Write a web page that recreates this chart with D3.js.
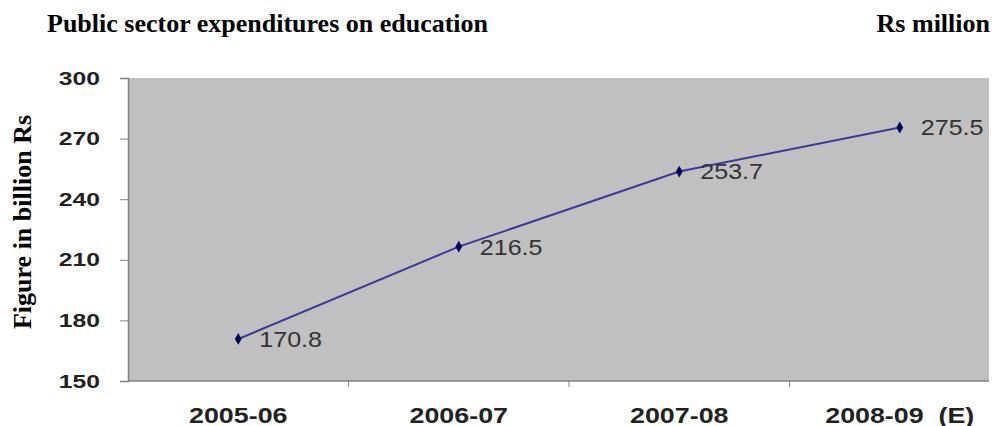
<!DOCTYPE html>
<html>
<head>
<meta charset="utf-8">
<script src="https://cdn.jsdelivr.net/npm/d3@7"></script>
<style>
  body { margin: 0; background: #fff; }
  svg { display: block; }
</style>
</head>
<body>
<svg id="chart" width="996" height="426"></svg>
<script>
const years = ["2005-06", "2006-07", "2007-08", "2008-09 (E)"];
const spending = [170.8, 216.5, 253.7, 275.5];
const yTicks = [150, 180, 210, 240, 270, 300];

const plot = {left: 128, top: 78, right: 989, bottom: 381};
const sansFont = "Liberation Sans, Arial, sans-serif";
const serifFont = "Liberation Serif, Times New Roman, serif";

const svg = d3.select("#chart");

const xScale = d3.scaleBand()
    .domain(years)
    .range([plot.left, plot.left + 4 * 220.5]);

const yScale = d3.scaleLinear()
    .domain([150, 300])
    .range([plot.bottom, plot.top]);

const cx = (d, i) => xScale(years[i]) + xScale.bandwidth() / 2;

// plot area
svg.append("rect")
    .attr("x", plot.left)
    .attr("y", plot.top)
    .attr("width", plot.right - plot.left)
    .attr("height", plot.bottom - plot.top)
    .attr("fill", "#c0c0c0");

// y axis
const yAxis = svg.append("g")
    .attr("transform", `translate(${plot.left},0)`)
    .call(d3.axisLeft(yScale).tickValues(yTicks).tickSize(8).tickPadding(20));
yAxis.select(".domain").attr("stroke", "#808080").attr("stroke-width", 1.5);
yAxis.selectAll(".tick line").attr("stroke", "#808080");
yAxis.selectAll(".tick text")
    .attr("x", null)
    .attr("transform", "translate(-28,0) scale(1.3,1)")
    .attr("font-family", sansFont)
    .attr("font-weight", "bold")
    .attr("font-size", 19)
    .attr("fill", "#222");

// x axis
const xAxis = svg.append("g")
    .attr("transform", `translate(0,${plot.bottom})`)
    .call(d3.axisBottom(xScale).tickSize(0).tickSizeOuter(0));
xAxis.select(".domain").attr("stroke", "#808080").attr("stroke-width", 1.5)
    .attr("d", `M${plot.left},0H${plot.right}`);
xAxis.selectAll(".tick text")
    .attr("y", null)
    .attr("dy", null)
    .attr("transform", "translate(0,42) scale(1.22,1)")
    .attr("font-family", sansFont)
    .attr("font-weight", "bold")
    .attr("font-size", 22)
    .attr("fill", "#222")
    .attr("xml:space", "preserve")
    .text(d => d.replace(" ", "  "));

// category separator ticks
svg.append("g")
    .selectAll("line")
    .data(years.slice(1))
    .join("line")
    .attr("x1", d => xScale(d))
    .attr("x2", d => xScale(d))
    .attr("y1", plot.bottom)
    .attr("y2", plot.bottom + 6)
    .attr("stroke", "#808080");

// line
svg.append("path")
    .datum(spending)
    .attr("fill", "none")
    .attr("stroke", "#3a3a9c")
    .attr("stroke-width", 2)
    .attr("d", d3.line()
        .x(cx)
        .y(d => yScale(d)));

// markers
svg.append("g")
    .selectAll("path")
    .data(spending)
    .join("path")
    .attr("transform", (d, i) => `translate(${cx(d, i)},${yScale(d)})`)
    .attr("d", d3.symbol(d3.symbolDiamond, 40))
    .attr("fill", "#000060");

// value labels
svg.append("g")
    .selectAll("text")
    .data(spending)
    .join("text")
    .attr("transform", (d, i) => `translate(${cx(d, i) + 21},${yScale(d)}) scale(1.14,1)`)
    .attr("dy", "0.36em")
    .attr("font-family", sansFont)
    .attr("font-size", 22)
    .attr("fill", "#333")
    .text(d => d.toFixed(1));

// titles
svg.append("text")
    .attr("x", 47)
    .attr("y", 32)
    .attr("font-family", serifFont)
    .attr("font-weight", "bold")
    .attr("font-size", 26)
    .text("Public sector expenditures on education");

svg.append("text")
    .attr("x", 990)
    .attr("y", 32)
    .attr("text-anchor", "end")
    .attr("font-family", serifFont)
    .attr("font-weight", "bold")
    .attr("font-size", 26)
    .text("Rs million");

svg.append("text")
    .attr("transform", "translate(31,222) rotate(-90)")
    .attr("text-anchor", "middle")
    .attr("font-family", serifFont)
    .attr("font-weight", "bold")
    .attr("font-size", 26)
    .text("Figure in billion Rs");
</script>
</body>
</html>
